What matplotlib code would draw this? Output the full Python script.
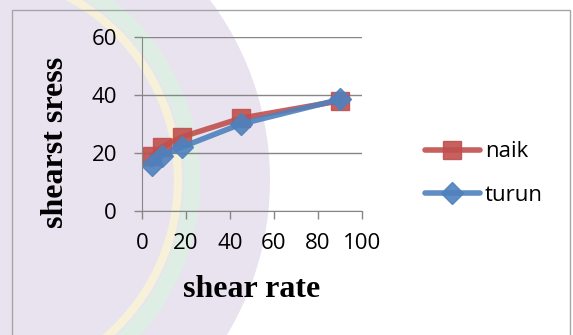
import matplotlib.pyplot as plt
from matplotlib.patches import Ellipse, Rectangle

# data
shear_rate = [4.5, 9, 18, 45, 90]
naik = [19, 22, 25.5, 32, 38]
turun = [16, 19, 22, 30, 38.5]
xticks = [0, 20, 40, 60, 80, 100]
yticks = [0, 20, 40, 60]

W, H = 573, 335
fig = plt.figure(figsize=(W / 100, H / 100), dpi=100)

# faint watermark behind the chart
def circ(cx, cy, r, **kw):
    return Ellipse((cx / W, 1 - cy / H), 2 * r / W, 2 * r / H,
                   transform=fig.transFigure, **kw)

fig.patches.append(circ(-30, 180, 300, facecolor='#e9e3f0', edgecolor='none', zorder=0))
fig.patches.append(circ(-30, 180, 222, facecolor='none', edgecolor='#deeee4', lw=12, zorder=0))
fig.patches.append(circ(-30, 180, 208, facecolor='none', edgecolor='#f6f1d8', lw=6, zorder=0))
fig.patches.append(Rectangle((12 / W, -0.1), (570 - 12) / W, 1.1 - 10 / H,
                             transform=fig.transFigure, facecolor='none',
                             edgecolor='#a6a6a6', lw=1, zorder=1))

ax = fig.add_axes([142 / W, 1 - 211 / H, 220 / W, 174 / H])
ax.set_zorder(5)
ax.set_facecolor('none')

ax.plot(shear_rate, naik, color='#c0504d', lw=4, marker='s', markersize=13,
        label='naik', alpha=0.9, solid_capstyle='round')
ax.plot(shear_rate, turun, color='#4f81bd', lw=4, marker='D', markersize=11,
        label='turun', alpha=0.9, solid_capstyle='round')

ax.set_xlim(0, 100)
ax.set_ylim(0, 60)
ax.set_xticks(xticks)
ax.set_yticks(yticks)
ax.grid(axis='y', color='#868686', lw=1)
ax.set_axisbelow(True)
for s in ['top', 'right']:
    ax.spines[s].set_visible(False)
for s in ['left', 'bottom']:
    ax.spines[s].set_color('#868686')
ax.tick_params(colors='#868686', length=6, width=1, labelcolor='black',
               labelsize=16)
ax.tick_params(axis='x', pad=10)
ax.tick_params(axis='y', pad=12)
for lab in ax.get_xticklabels() + ax.get_yticklabels():
    lab.set_family('Open Sans')

ax.set_xlabel('shear rate', family='Liberation Serif', fontweight='bold',
              fontsize=23)
ax.set_ylabel('shearst sress', family='Liberation Serif', fontweight='bold',
              fontsize=23)
ax.xaxis.set_label_coords(0.5, -0.368)
ax.yaxis.set_label_coords(-0.328, 0.397)

leg = ax.legend(loc='center left', bbox_to_anchor=(1.286, 0.216), frameon=False,
                prop={'family': 'Open Sans', 'size': 16}, labelspacing=1.0,
                handlelength=2.48, handletextpad=0.22, borderpad=0,
                borderaxespad=0)

fig.savefig('out.png', dpi=100)
